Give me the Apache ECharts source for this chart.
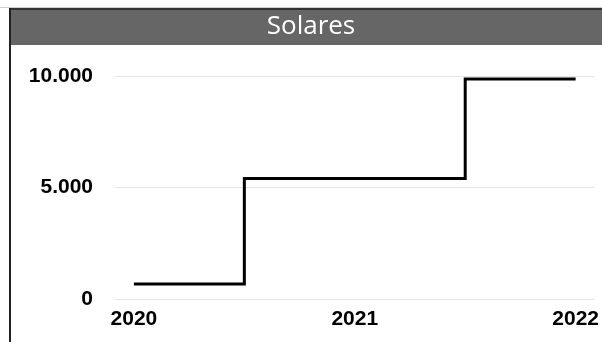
<!DOCTYPE html>
<html>
<head>
<meta charset="utf-8">
<script src="https://cdn.jsdelivr.net/npm/echarts@6/dist/echarts.min.js"></script>
<style>
  html, body { margin: 0; padding: 0; background: #fff; }
  #chart { width: 602px; height: 342px; }
</style>
</head>
<body>
<div id="chart"></div>
<script>
// Installed solar capacity per year
const chartTitle = 'Solares';
const years = [2020, 2021, 2022];
const solarValues = [670, 5400, 9870];
const yTicks = [0, 5000, 10000];

function fmtThousands(v) {
  return String(Math.round(v)).replace(/\B(?=(\d{3})+(?!\d))/g, '.');
}

const chart = echarts.init(document.getElementById('chart'), null, { renderer: 'canvas' });

const pad = 0.0856; // space left and right of the first/last year
chart.setOption({
  animation: false,
  backgroundColor: '#ffffff',
  graphic: [
    { type: 'rect', shape: { x: 10, y: 8, width: 600, height: 37 }, style: { fill: '#666666' }, z: 10 },
    { type: 'line', shape: { x1: 0, y1: 7.5, x2: 602, y2: 7.5 }, style: { stroke: '#cfcfcf', lineWidth: 1 }, z: 11 },
    { type: 'line', shape: { x1: 10, y1: 9, x2: 602, y2: 9 }, style: { stroke: '#333333', lineWidth: 2 }, z: 11 },
    { type: 'line', shape: { x1: 10, y1: 8, x2: 10, y2: 342 }, style: { stroke: '#222222', lineWidth: 2 }, z: 11 },
    {
      type: 'text', x: 311, y: 27, z: 12,
      style: {
        text: chartTitle, fill: '#ffffff', fontSize: 26,
        fontFamily: 'Open Sans', align: 'center', verticalAlign: 'middle'
      }
    }
  ],
  grid: { left: 115, right: 5, top: 76, bottom: 43, containLabel: false },
  xAxis: {
    type: 'value',
    min: years[0] - pad,
    max: years[years.length - 1] + pad,
    axisLine: { show: false },
    axisTick: { show: false },
    splitLine: { show: false },
    axisLabel: {
      customValues: years,
      formatter: v => String(v),
      color: '#000000', fontWeight: 'bold', fontSize: 21,
      fontFamily: 'Liberation Sans', margin: 10
    }
  },
  yAxis: {
    type: 'value',
    min: yTicks[0], max: yTicks[yTicks.length - 1], interval: yTicks[1] - yTicks[0],
    axisLine: { show: false },
    axisTick: { show: false },
    splitLine: { show: true, lineStyle: { color: '#e6e6e6', width: 1 } },
    axisLabel: {
      formatter: v => fmtThousands(v),
      color: '#000000', fontWeight: 'bold', fontSize: 21,
      fontFamily: 'Liberation Sans', margin: 22
    }
  },
  series: [{
    type: 'line',
    step: 'middle',
    data: years.map((y, i) => [y, solarValues[i]]),
    showSymbol: false,
    lineStyle: { color: '#000000', width: 3, cap: 'butt', join: 'miter' }
  }]
});
</script>
</body>
</html>
